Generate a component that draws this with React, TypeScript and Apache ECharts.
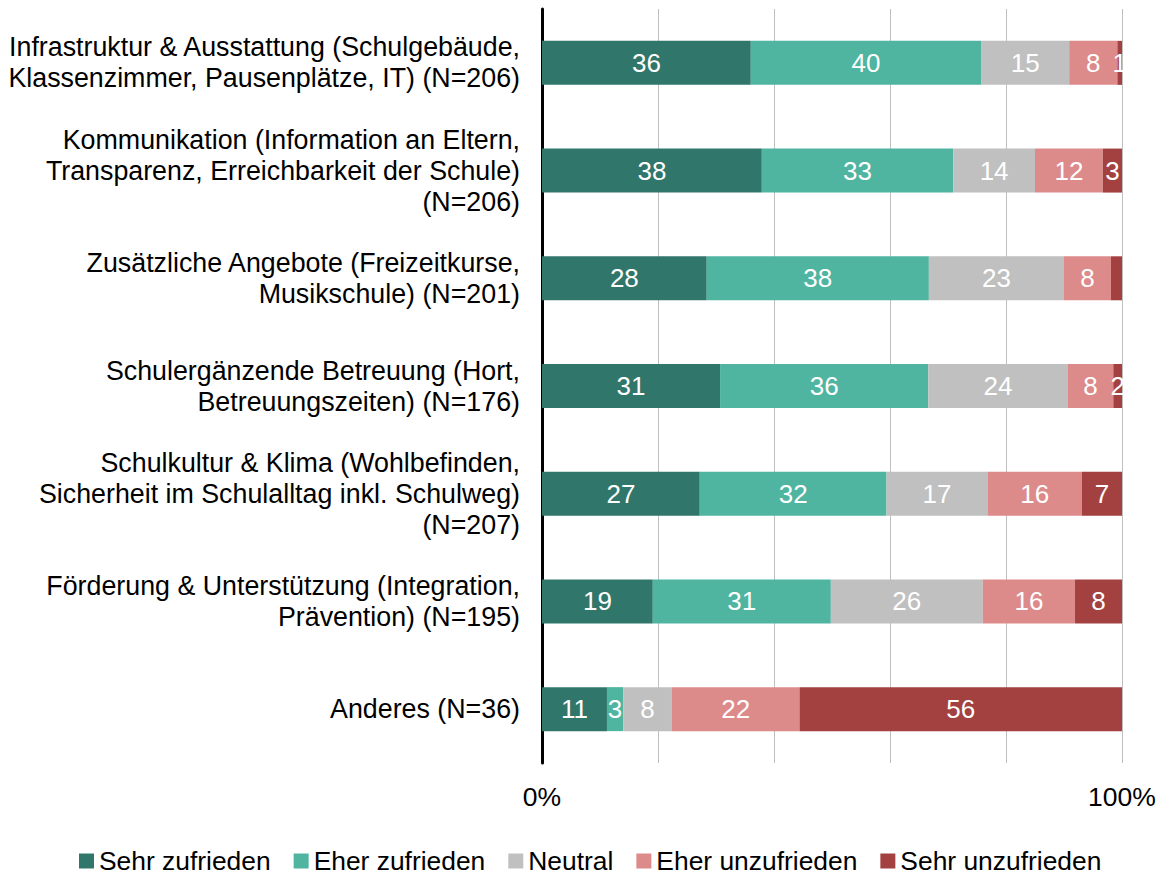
import React, { useEffect, useRef } from "react";
import * as echarts from "echarts";

const categories = [
  "Infrastruktur & Ausstattung (Schulgebäude,\nKlassenzimmer, Pausenplätze, IT) (N=206)",
  "Kommunikation (Information an Eltern,\nTransparenz, Erreichbarkeit der Schule)\n(N=206)",
  "Zusätzliche Angebote (Freizeitkurse,\nMusikschule) (N=201)",
  "Schulergänzende Betreuung (Hort,\nBetreuungszeiten) (N=176)",
  "Schulkultur & Klima (Wohlbefinden,\nSicherheit im Schulalltag inkl. Schulweg)\n(N=207)",
  "Förderung & Unterstützung (Integration,\nPrävention) (N=195)",
  "Anderes (N=36)",
];

const seriesNames = [
  "Sehr zufrieden",
  "Eher zufrieden",
  "Neutral",
  "Eher unzufrieden",
  "Sehr unzufrieden",
];

const sehrZufrieden = [36.0, 37.9, 28.4, 30.7, 27.2, 19.1, 11.2];
const eherZufrieden = [39.7, 33.0, 38.3, 35.9, 32.2, 30.7, 2.8];
const neutral = [15.2, 14.1, 23.3, 24.0, 17.4, 26.2, 8.4];
const eherUnzufrieden = [8.3, 11.7, 8.1, 7.9, 16.3, 15.9, 22.0];
const sehrUnzufrieden = [0.8, 3.3, 1.9, 1.5, 6.9, 8.1, 55.6];

const hiddenLabels: Record<number, number[]> = { 4: [2] };

const colors = ["#31766A", "#4FB4A0", "#C0C0C0", "#DD8A8A", "#A34141"];

const xTicks = [0, 20, 40, 60, 80, 100];
const shownTickLabels = [0, 100];

const FONT = "'Liberation Sans', Arial, sans-serif";
const FS = 26.8;

export default function App() {
  const ref = useRef<HTMLDivElement>(null);
  useEffect(() => {
    if (!ref.current) return;
    const chart = echarts.init(ref.current, null, { renderer: "svg" });
    const allData = [sehrZufrieden, eherZufrieden, neutral, eherUnzufrieden, sehrUnzufrieden];
    const series = allData.map((vals, si) => ({
      name: seriesNames[si],
      type: "bar",
      stack: "total",
      barWidth: 44,
      itemStyle: { color: colors[si] },
      label: {
        show: true,
        position: "inside",
        color: "#ffffff",
        fontSize: 26,
        fontFamily: FONT,
        formatter: (p: any) => String(Math.round(p.value)),
      },
      data: vals.map((v, i) =>
        (hiddenLabels[si] || []).includes(i)
          ? { value: v, label: { show: false } }
          : v
      ),
    }));
    chart.setOption({
      animation: false,
      textStyle: { fontFamily: FONT },
      grid: { left: 542, right: 42, top: 9, bottom: 114, containLabel: false },
      xAxis: {
        type: "value",
        min: xTicks[0],
        max: xTicks[xTicks.length - 1],
        interval: 20,
        axisLine: { show: false },
        axisTick: { show: false },
        splitLine: { show: true, lineStyle: { color: "#BFBFBF", width: 1 } },
        axisLabel: {
          color: "#000",
          fontSize: 26.5,
          fontFamily: FONT,
          margin: 20,
          formatter: (v: number) => (shownTickLabels.includes(v) ? v + "%" : ""),
        },
      },
      yAxis: {
        type: "category",
        inverse: true,
        data: categories,
        axisLine: { show: true, lineStyle: { color: "#000", width: 3 } },
        axisTick: { show: false },
        axisLabel: {
          color: "#000",
          fontSize: FS,
          fontFamily: FONT,
          lineHeight: 31,
          margin: 22,
          align: "right",
        },
      },
      legend: {
        top: 843,
        left: 74,
        itemWidth: 15,
        itemHeight: 15,
        itemGap: 23,
        icon: "rect",
        textStyle: { color: "#000", fontSize: 26.4, fontFamily: FONT, lineHeight: 26 },
        data: seriesNames,
      },
      graphic: [
        {
          type: "rect",
          shape: { x: 1123, y: 0, width: 41, height: 770 },
          style: { fill: "#ffffff" },
          z: 100,
        },
      ],
      series,
    });
    return () => chart.dispose();
  }, []);
  return (
    <div
      ref={ref}
      style={{ position: "absolute", left: 0, top: 0, width: 1164, height: 877 }}
    />
  );
}
